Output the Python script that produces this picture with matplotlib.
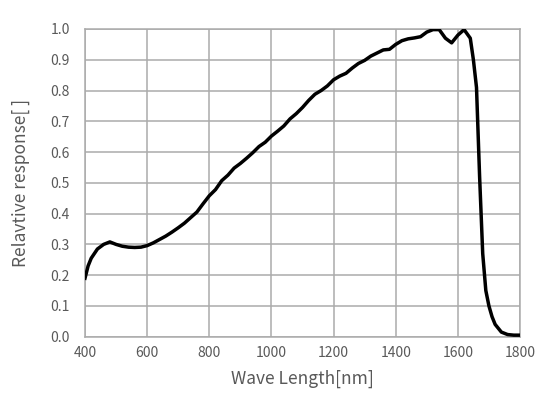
import matplotlib
matplotlib.use("Agg")
import matplotlib.pyplot as plt

plt.rcParams['font.family'] = ['Noto Sans CJK JP', 'DejaVu Sans']

wavelength = [400, 410, 420, 440, 460, 480, 500, 520, 540, 560, 580, 600, 620, 640, 660, 680,
              700, 720, 740, 760, 780, 800, 820, 840, 860, 880, 900, 920, 940, 960, 980,
              1000, 1020, 1040, 1060, 1080, 1100, 1120, 1140, 1160, 1180, 1200, 1220, 1240,
              1260, 1280, 1300, 1320, 1340, 1360, 1380, 1400, 1420, 1440, 1460, 1480, 1500,
              1520, 1540, 1560, 1580, 1600, 1620, 1640, 1650, 1660, 1670, 1680, 1690, 1700,
              1710, 1720, 1740, 1760, 1780, 1800]
response = [0.19, 0.23, 0.255, 0.285, 0.300, 0.308, 0.300, 0.294, 0.291, 0.290, 0.291, 0.296,
            0.305, 0.316, 0.327, 0.340, 0.354, 0.369, 0.387, 0.405, 0.432, 0.458, 0.478, 0.507,
            0.525, 0.548, 0.563, 0.580, 0.598, 0.618, 0.632, 0.652, 0.668, 0.685, 0.708, 0.725,
            0.745, 0.768, 0.788, 0.800, 0.815, 0.835, 0.847, 0.856, 0.873, 0.888, 0.898, 0.912,
            0.922, 0.932, 0.934, 0.950, 0.962, 0.968, 0.971, 0.975, 0.990, 0.998, 0.998, 0.970,
            0.955, 0.980, 0.998, 0.970, 0.900, 0.810, 0.520, 0.270, 0.150, 0.100, 0.065, 0.040,
            0.015, 0.007, 0.005, 0.005]

x_ticks = [400, 600, 800, 1000, 1200, 1400, 1600, 1800]
y_ticks = [0.0, 0.1, 0.2, 0.3, 0.4, 0.5, 0.6, 0.7, 0.8, 0.9, 1.0]

text_color = '#595959'
grid_color = '#ababab'

fig = plt.figure(figsize=(5.48, 3.98), dpi=100)
ax = fig.add_axes([85/548, 1 - 336.7/398, 435/548, 307.7/398])

ax.plot(wavelength, response, color='black', lw=2.5, solid_joinstyle='round', zorder=3)

ax.set_xlim(400, 1800)
ax.set_ylim(0, 1.0)
ax.set_xticks(x_ticks)
ax.set_yticks(y_ticks)
ax.set_xticklabels([str(v) for v in x_ticks])
ax.set_yticklabels([f"{v:.1f}" for v in y_ticks])
ax.grid(True, color=grid_color, lw=1.1)
ax.set_axisbelow(True)
for s in ax.spines.values():
    s.set_color(grid_color)
    s.set_linewidth(1.1)
ax.tick_params(axis='both', length=0, labelsize=10, labelcolor=text_color)
ax.tick_params(axis='y', pad=11)
ax.tick_params(axis='x', pad=7)

ax.set_xlabel('Wave Length[nm]', fontsize=12.5, color=text_color, labelpad=7)
ax.set_ylabel('Relavtive response[ ]', fontsize=12.5, color=text_color, labelpad=14.5)

fig.savefig('out.png', dpi=100)
